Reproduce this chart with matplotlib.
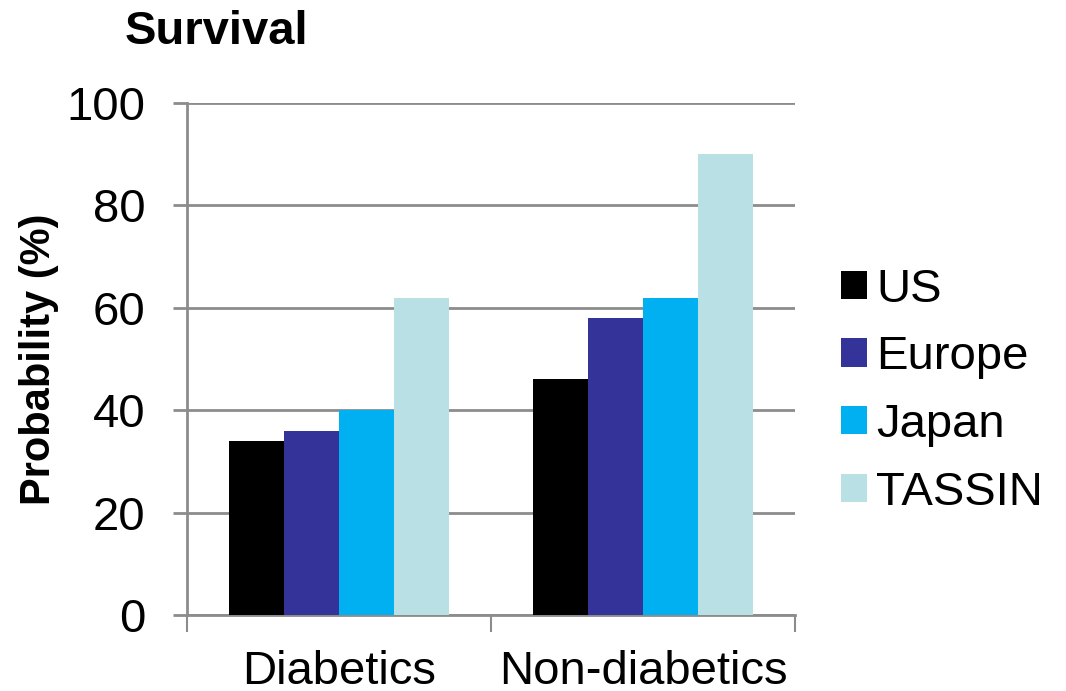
import numpy as np
import matplotlib
matplotlib.use("Agg")
import matplotlib.pyplot as plt
from matplotlib.ticker import FixedLocator

plt.rcParams['font.family'] = ['Liberation Sans', 'DejaVu Sans']

categories = ["Diabetics", "Non-diabetics"]
series_names = ["US", "Europe", "Japan", "TASSIN"]
us = [34, 46]
europe = [36, 58]
japan = [40, 62]
tassin = [62, 90]
series_values = [us, europe, japan, tassin]
colors = ["#000000", "#333399", "#00B0F0", "#B9E0E4"]
y_ticks = [0, 20, 40, 60, 80, 100]

grid_color = "#8C8C8C"

fig = plt.figure(figsize=(10.66, 6.91), dpi=100)
ax = fig.add_axes([0.1754, 0.110, 0.5704, 0.741])

x = np.arange(len(categories))
width = 0.181
offsets = (np.arange(len(series_names)) - (len(series_names) - 1) / 2) * width
for name, vals, col, off in zip(series_names, series_values, colors, offsets):
    ax.bar(x + off, vals, width, color=col, label=name, zorder=3)

ax.set_xlim(-0.5, len(categories) - 0.5)
ax.set_ylim(0, 100)
ax.set_yticks(y_ticks)
ax.yaxis.grid(True, color=grid_color, linewidth=2, zorder=0)

# Category boundaries carry the tick marks; labels sit at the group centres
ax.xaxis.set_major_locator(FixedLocator(np.arange(len(categories) + 1) - 0.5))
ax.xaxis.set_minor_locator(FixedLocator(x))
ax.set_xticklabels([], minor=False)
ax.set_xticklabels(categories, minor=True)
ax.tick_params(axis='x', which='major', direction='out', length=12, width=1.5,
               color=grid_color)
ax.tick_params(axis='x', which='minor', length=0, pad=25, labelsize=34)
ax.tick_params(axis='y', direction='out', length=10, width=2, color=grid_color,
               pad=20, labelsize=34)

for side in ("top", "right"):
    ax.spines[side].set_visible(False)
for side in ("left", "bottom"):
    ax.spines[side].set_color(grid_color)
    ax.spines[side].set_linewidth(2)

ax.set_ylabel("Probability (%)", fontsize=30, fontweight='bold', labelpad=5)
fig.text(125 / 1066, 1 - 32 / 691, "Survival", fontsize=34, fontweight='bold',
         ha='left', va='center')

leg = ax.legend(loc='center left', bbox_to_anchor=(0.789, 0.434),
                bbox_transform=fig.transFigure, frameon=False, fontsize=34,
                handlelength=0.55, handleheight=0.55, handletextpad=0.2,
                labelspacing=0.5, borderaxespad=0, borderpad=0)

fig.savefig("out.png", dpi=100)
